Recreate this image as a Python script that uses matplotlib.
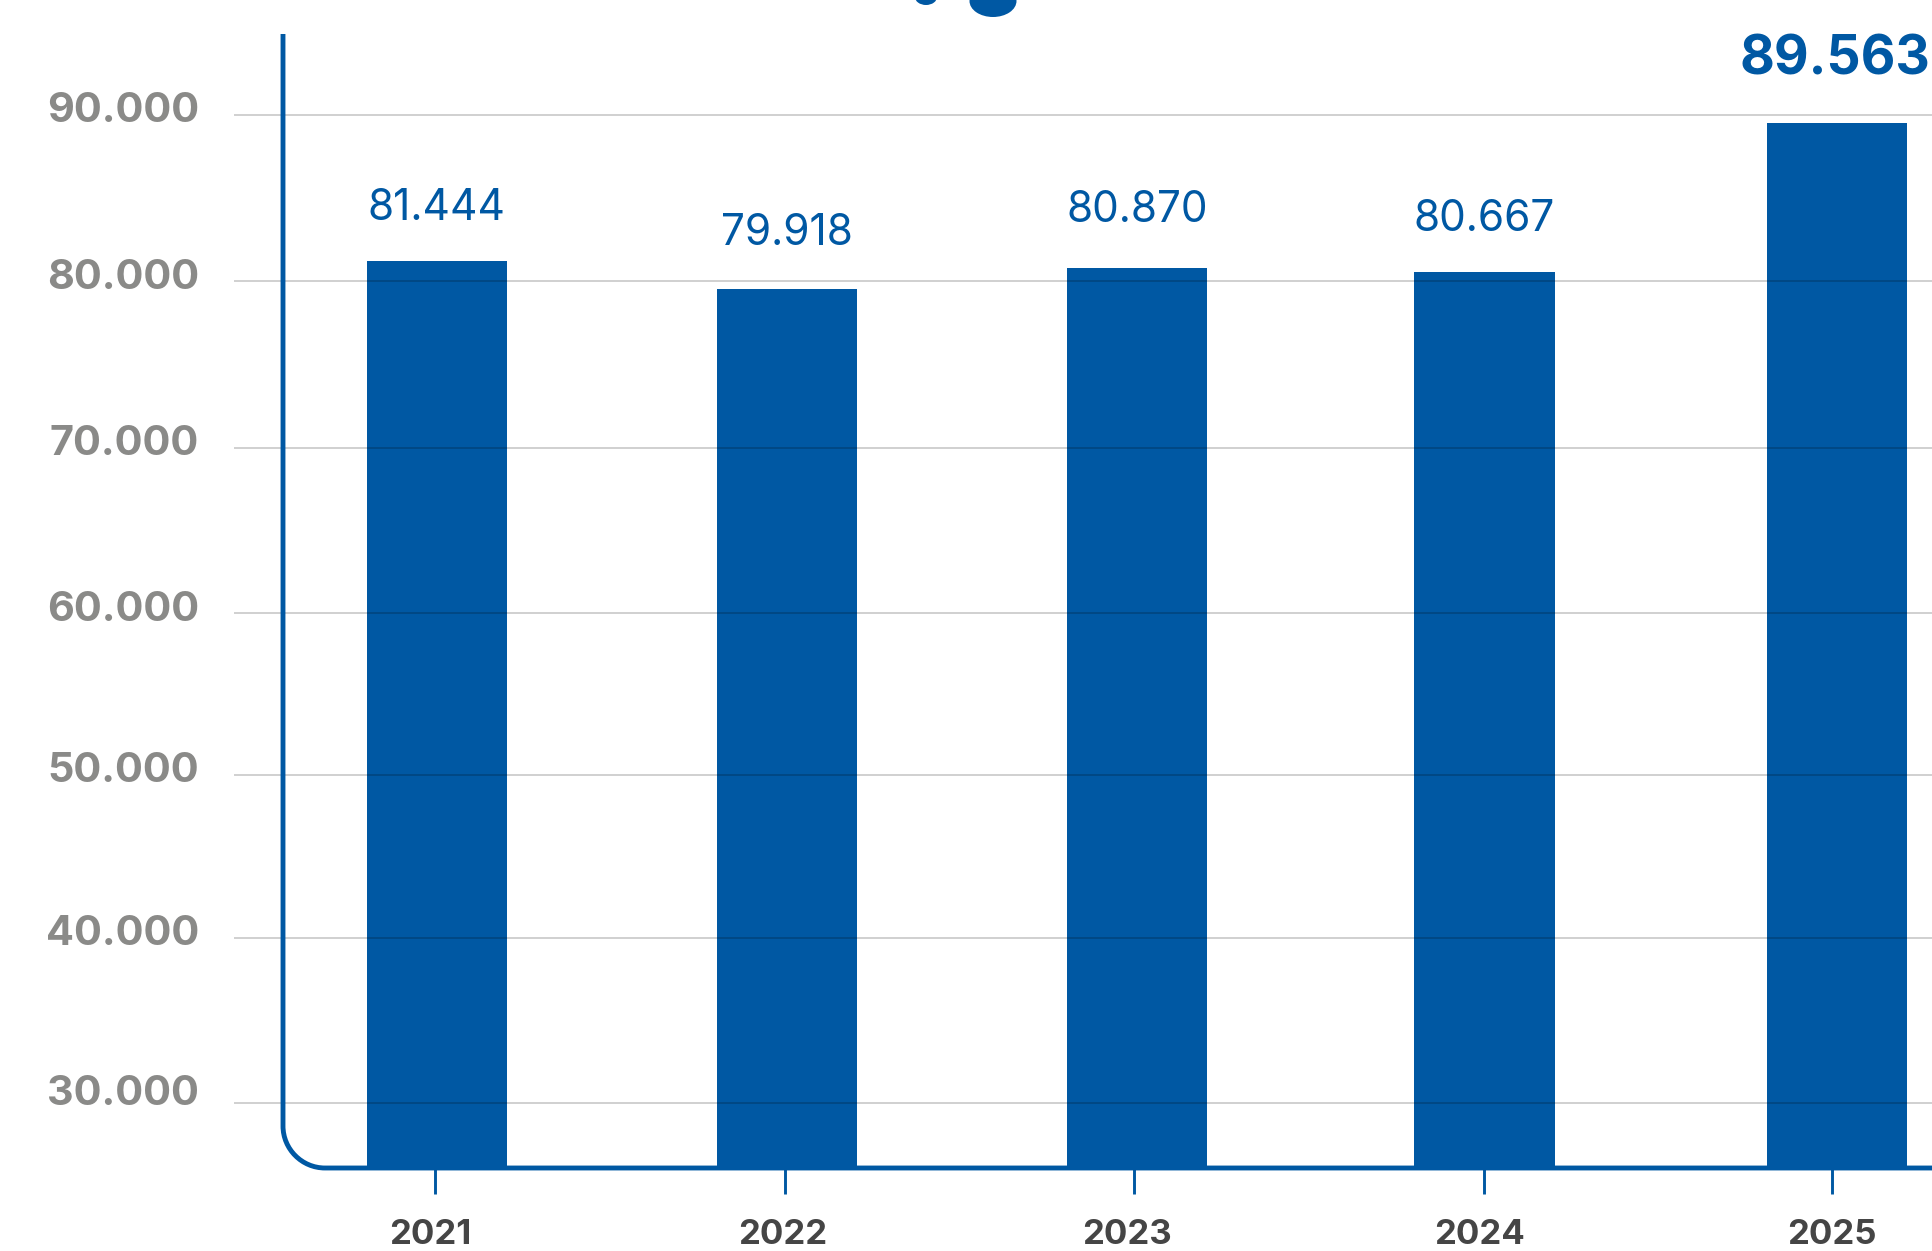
import matplotlib
matplotlib.use("Agg")
import matplotlib.pyplot as plt
from matplotlib.patches import Ellipse, PathPatch
from matplotlib.path import Path
from matplotlib.transforms import Affine2D

years = ["2021", "2022", "2023", "2024", "2025"]
value_labels = ["81.444", "79.918", "80.870", "80.667", "89.563"]
# heights as drawn in the picture, they sit a bit off the printed numbers
bar_heights = [81120, 79420, 80670, 80450, 89500]
y_ticks = [30000, 40000, 50000, 60000, 70000, 80000, 90000]
y_tick_labels = ["30.000", "40.000", "50.000", "60.000", "70.000", "80.000", "90.000"]
# where the gridlines really are drawn, not quite evenly spaced
grid_values = [30000, 40000, 49925, 59775, 69775, 79925, 90000]

BLUE = "#0058a3"
W, H = 1932, 1251
plt.rcParams["font.family"] = ["Inter", "DejaVu Sans"]

fig = plt.figure(figsize=(W / 100, H / 100), dpi=100)

# axes box in pixels of the reference
left, right, top, bottom = 234, W, 34, 1168
ax = fig.add_axes([left / W, 1 - bottom / H, (right - left) / W, (bottom - top) / H])
ax.patch.set_alpha(0)

px_per_unit_y = 164.7 / 10000
ax.set_ylim(30000 - (bottom - 1103) / px_per_unit_y, 30000 + (1103 - top) / px_per_unit_y)
x0, step = 437, 350
ax.set_xlim((left - x0) / step, (right - x0) / step)

x = list(range(len(years)))
bar_shift = [0, 0, 0, -0.007, 0]
bar_x = [i + s for i, s in zip(x, bar_shift)]
ax.bar(bar_x, bar_heights, width=0.402, color=BLUE, zorder=2)

# gridlines go over the bars and darken them a little
ax.set_yticks(grid_values)
ax.set_yticklabels([])
ax.grid(axis="y", color="black", alpha=0.2, linewidth=1.3, zorder=3)
ax.set_axisbelow(False)
ax.xaxis.grid(False)
ax.tick_params(axis="y", length=0)
for s in ax.spines.values():
    s.set_visible(False)

# ticks under the bars
tick_shift = [-0.007, -0.007, -0.01, -0.01, -0.014]
ax.set_xticks([i + s for i, s in zip(x, tick_shift)])
ax.set_xticklabels([])
ax.tick_params(axis="x", length=19, width=2.1, color=BLUE, direction="out")

# y labels, each one sits a few pixels above its gridline
y_label_shift = [9, 4, 4, 3, 4, 3, 4]
for v, lab, dy in zip(grid_values, y_tick_labels, y_label_shift):
    ax.annotate(lab, (0, v), xycoords=("axes fraction", "data"), xytext=(-35, dy),
                textcoords="offset pixels", ha="right", va="center",
                fontsize=29.8, fontweight="bold", color="#8a8a88")

# year labels
year_shift = [-7, -4, -10, -8, -5]
for i, lab, dx in zip(x, years, year_shift):
    ax.annotate(lab, (i, 0), xycoords=("data", "axes fraction"), xytext=(dx, -67),
                textcoords="offset pixels", ha="center", va="center",
                fontsize=25, fontweight="bold", color="#454545")

# values above the bars
value_shift = [53, 56, 58, 53, 63]
for i, bx, h, lab, dy in zip(x, bar_x, bar_heights, value_labels, value_shift):
    last = i == len(x) - 1
    ax.annotate(lab, (bx, h), xytext=(-2 if last else 0, dy), textcoords="offset pixels",
                ha="center", va="center", color=BLUE,
                fontsize=38.5 if last else 30.5, fontweight="bold" if last else "normal",
                annotation_clip=False)

# frame and the bits of artwork at the top, in reference pixels
to_px = Affine2D().scale(1 / W, -1 / H).translate(0, 1) + fig.transFigure
r = 42
k = 0.55 * r
frame = Path([(283, 34), (283, bottom - r), (283, bottom - r + k), (283 + r - k, bottom),
              (283 + r, bottom), (W, bottom)],
             [Path.MOVETO, Path.LINETO, Path.CURVE4, Path.CURVE4, Path.CURVE4, Path.LINETO])
fig.add_artist(PathPatch(frame, transform=to_px, fill=False, edgecolor=BLUE, linewidth=3.5))
fig.add_artist(Ellipse((993, 1), 47, 32, transform=to_px, color=BLUE, linewidth=0))
fig.add_artist(Ellipse((926, -3), 22, 16, transform=to_px, color=BLUE, linewidth=0))

fig.savefig("out.png", dpi=100)
